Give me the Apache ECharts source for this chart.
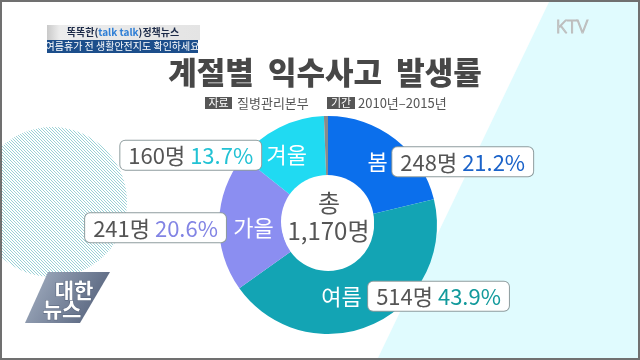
<!DOCTYPE html>
<html><head><meta charset="utf-8">
<script src="https://cdn.jsdelivr.net/npm/echarts@6/dist/echarts.min.js"></script>
<style>html,body{margin:0;padding:0;background:#fff}#c{width:640px;height:360px}</style>
</head><body><div id="c"></div>
<script>
// ---- data ----
const seasons = ['봄', '여름', '가을', '겨울', '기타'];
const counts = [248, 514, 241, 160, 7];
const percentLabels = ['21.2%', '43.9%', '20.6%', '13.7%', ''];
const titleText = '계절별  익수사고  발생률';
const sourceText = '질병관리본부';
const periodText = '2010년–2015년';

// ---- styling ----
const KR = '"Noto Sans CJK KR", "Noto Sans", sans-serif';
const sliceColors = ['#0b6fec', '#13a4b4', '#8b8ef1', '#20daf2', '#8a8a8a'];
const pctColors = ['#1b63c9', '#139a9c', '#8284e4', '#22c2d4', '#888'];
// label tweaks (pixels) relative to the library's inside-label position
const nameShift = [[0, 0], [-20, -2], [6, 5], [-5, 2]];
const boxShift = [85, 97, -98, -96];

const total = counts.reduce((a, b) => a + b, 0);

const rich = { v: { color: '#555', fontSize: 22, fontFamily: KR, lineHeight: 26 } };
pctColors.forEach((c, i) => { rich['p' + i] = { color: c, fontSize: 22, fontFamily: KR, lineHeight: 26 }; });

const pieData = seasons.map((s, i) => ({ name: s, value: counts[i], itemStyle: { color: sliceColors[i] } }));
const ghostData = seasons.map((s, i) => ({ name: s, value: counts[i], itemStyle: { color: 'rgba(0,0,0,0)' },
  label: { show: i < 4 } }));

// hatch pattern
const pc = document.createElement('canvas'); pc.width = 3; pc.height = 3;
const pctx = pc.getContext('2d');
pctx.strokeStyle = '#8fcdd2'; pctx.lineWidth = 1;
pctx.beginPath();
pctx.moveTo(0, 0); pctx.lineTo(3, 3);
pctx.moveTo(-1, 2); pctx.lineTo(1, 4);
pctx.moveTo(2, -1); pctx.lineTo(4, 1);
pctx.stroke();

const chart = echarts.init(document.getElementById('c'), null, { renderer: 'canvas' });
const center = [328, 225];
const radius = [46, 109];

chart.setOption({
  backgroundColor: '#ffffff',
  animation: false,
  graphic: [
    { type: 'polygon', z: -10, shape: { points: [[550, 0], [640, 0], [640, 360], [377, 360]] }, style: { fill: '#e0fbfe' } },
    { type: 'circle', z: -10, shape: { cx: 52, cy: 202, r: 75 }, style: { fill: { image: pc, repeat: 'repeat' }, opacity: 0.9 } },
    // 대한뉴스 logo
    { type: 'polygon', z: -9, shape: { points: [[48, 272], [110, 272], [80, 323], [25, 323]] },
      style: { fill: new echarts.graphic.LinearGradient(0, 0, 1, 1, [{ offset: 0, color: '#a6b2c4' }, { offset: 1, color: '#4b5873' }]) } },
    { type: 'text', z: -8, style: { text: '대한', x: 74, y: 290, align: 'center', verticalAlign: 'middle', font: 'bold 21px ' + KR, fill: '#fff', stroke: '#55627a', lineWidth: 1 } },
    { type: 'text', z: -8, style: { text: '뉴스', x: 62, y: 309, align: 'center', verticalAlign: 'middle', font: 'bold 21px ' + KR, fill: '#fff', stroke: '#55627a', lineWidth: 1 } },
    // header
    { type: 'rect', z: -9, shape: { x: 47, y: 25, width: 153, height: 15 },
      style: { fill: new echarts.graphic.LinearGradient(0, 0, 1, 0, [{ offset: 0, color: '#c9c9c9' }, { offset: 0.08, color: '#ececec' }, { offset: 1, color: '#e4e4e4' }]) } },
    { type: 'text', z: -8, style: { text: '{a|똑똑한(}{b|talk talk}{a|)정책뉴스}', x: 123, y: 32.5, align: 'center', verticalAlign: 'middle',
      rich: { a: { font: 'bold 10px ' + KR, fill: '#1c2a48' }, b: { font: 'bold 10px ' + KR, fill: '#2f7fd6' } } } },
    { type: 'rect', z: -9, shape: { x: 47, y: 40, width: 151, height: 13 }, style: { fill: '#1c4e8b' } },
    { type: 'text', z: -8, style: { text: '여름휴가 전 생활안전지도 확인하세요', x: 122.5, y: 46.5, align: 'center', verticalAlign: 'middle', font: '10px ' + KR, fill: '#fff' } },
    // KTV
    { type: 'text', z: -8, style: { text: 'KTV', x: 572, y: 28, align: 'center', verticalAlign: 'middle', font: '300 19px "Noto Sans", sans-serif', fill: 'rgba(255,255,255,0)', stroke: '#bdbdbd', lineWidth: 1 } },
    // title
    { type: 'text', z: 5, style: { text: titleText, x: 325, y: 72, align: 'center', verticalAlign: 'middle', font: '900 31px ' + KR, fill: '#474747' } },
    // subtitle
    { type: 'rect', z: 5, shape: { x: 205, y: 97, width: 27, height: 12 }, style: { fill: '#565656' } },
    { type: 'text', z: 6, style: { text: '자료', x: 218.5, y: 103, align: 'center', verticalAlign: 'middle', font: '11px ' + KR, fill: '#fff' } },
    { type: 'text', z: 6, style: { text: sourceText, x: 237, y: 103.5, align: 'left', verticalAlign: 'middle', font: '13px ' + KR, fill: '#555' } },
    { type: 'rect', z: 5, shape: { x: 327, y: 97, width: 28, height: 12 }, style: { fill: '#565656' } },
    { type: 'text', z: 6, style: { text: '기간', x: 341, y: 103, align: 'center', verticalAlign: 'middle', font: '11px ' + KR, fill: '#fff' } },
    { type: 'text', z: 6, style: { text: periodText, x: 358, y: 103.5, align: 'left', verticalAlign: 'middle', font: '13px ' + KR, fill: '#555' } },
    // centre hole + total
    { type: 'circle', z: 20, shape: { cx: 327.5, cy: 221.5, r: 46.5 }, style: { fill: '#fff' } },
    { type: 'text', z: 21, style: { text: '총', x: 329, y: 203, align: 'center', verticalAlign: 'middle', font: '24px ' + KR, fill: '#555' } },
    { type: 'text', z: 21, style: { text: total.toLocaleString('en-US') + '명', x: 328.5, y: 231, align: 'center', verticalAlign: 'middle', font: '24px ' + KR, fill: '#555' } },
    // frame
    { type: 'rect', z: 50, shape: { x: 1, y: 1, width: 638, height: 358 }, style: { fill: 'none', stroke: '#707070', lineWidth: 2 } }
  ],
  series: [
    {
      type: 'pie', center: center, radius: radius, startAngle: 90, clockwise: true,
      data: pieData, silent: true,
      label: { show: true, position: 'inside', formatter: p => p.dataIndex < 4 ? p.name : '', color: '#fff', fontSize: 22, fontFamily: KR },
      labelLine: { show: false },
      labelLayout: p => { const s = nameShift[p.dataIndex] || [0, 0]; return { dx: s[0], dy: s[1] }; },
      emphasis: { disabled: true }
    },
    {
      type: 'pie', center: center, radius: radius, startAngle: 90, clockwise: true, z: 30,
      data: ghostData, silent: true,
      label: {
        show: true, position: 'inside',
        formatter: p => `{v|${counts[p.dataIndex]}명 }{p${p.dataIndex}|${percentLabels[p.dataIndex]}}`,
        backgroundColor: '#fff', borderColor: '#8e9c9e', borderWidth: 1, borderRadius: 5, padding: [2, 8, 1, 8],
        rich: rich
      },
      labelLine: { show: false },
      labelLayout: p => { const s = nameShift[p.dataIndex] || [0, 0]; return { dx: s[0] + (boxShift[p.dataIndex] || 0), dy: s[1] }; },
      emphasis: { disabled: true }
    }
  ]
});
</script></body></html>
